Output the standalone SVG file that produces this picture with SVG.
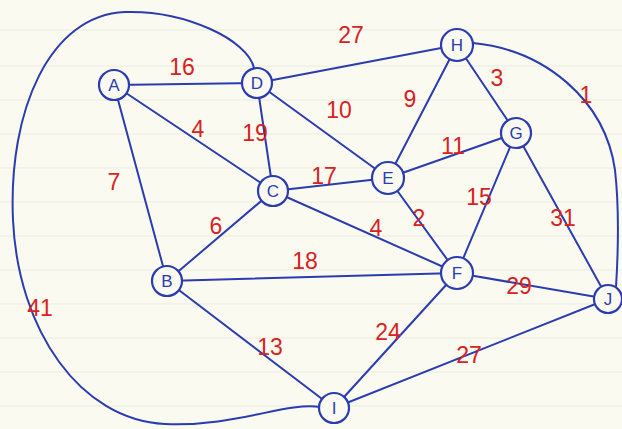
<svg xmlns="http://www.w3.org/2000/svg" width="622" height="429" viewBox="0 0 622 429">
<style>
.bg{fill:#fbfaf0}
.rule{stroke:#ebebdf;stroke-width:1}
.e{stroke:#2a3cb0;stroke-width:2;fill:none;stroke-linecap:round}
.n circle{fill:#fbfaf0;stroke:#2a3cb0;stroke-width:2.2}
.n text{fill:#2a3cb0;font-family:"Liberation Sans",Arial,sans-serif;font-size:17px;text-anchor:middle;dominant-baseline:central}
.w{fill:#d8221e;font-family:"Liberation Sans",Arial,sans-serif;font-size:23px;text-anchor:middle;dominant-baseline:central}
</style>
<rect class="bg" x="0" y="0" width="622" height="429"/>
<g id="paper">
<line class="rule" x1="0" y1="30" x2="622" y2="30"/>
<line class="rule" x1="0" y1="66" x2="622" y2="66"/>
<line class="rule" x1="0" y1="100" x2="622" y2="100"/>
<line class="rule" x1="0" y1="134" x2="622" y2="134"/>
<line class="rule" x1="0" y1="168" x2="622" y2="168"/>
<line class="rule" x1="0" y1="202" x2="622" y2="202"/>
<line class="rule" x1="0" y1="236" x2="622" y2="236"/>
<line class="rule" x1="0" y1="270" x2="622" y2="270"/>
<line class="rule" x1="0" y1="304" x2="622" y2="304"/>
<line class="rule" x1="0" y1="338" x2="622" y2="338"/>
<line class="rule" x1="0" y1="372" x2="622" y2="372"/>
<line class="rule" x1="0" y1="406" x2="622" y2="406"/>
</g>
<g id="connectors">
<line class="e" x1="114" y1="85" x2="257" y2="83"/>
<line class="e" x1="114" y1="85" x2="273" y2="191"/>
<line class="e" x1="114" y1="85" x2="167" y2="281"/>
<line class="e" x1="257" y1="83" x2="273" y2="191"/>
<line class="e" x1="257" y1="83" x2="388" y2="178"/>
<line class="e" x1="257" y1="83" x2="457" y2="45"/>
<line class="e" x1="457" y1="45" x2="388" y2="178"/>
<line class="e" x1="457" y1="45" x2="516" y2="133"/>
<line class="e" x1="516" y1="133" x2="388" y2="178"/>
<line class="e" x1="516" y1="133" x2="457" y2="273"/>
<line class="e" x1="516" y1="133" x2="608" y2="299"/>
<line class="e" x1="388" y1="178" x2="273" y2="191"/>
<line class="e" x1="388" y1="178" x2="457" y2="273"/>
<line class="e" x1="273" y1="191" x2="457" y2="273"/>
<line class="e" x1="273" y1="191" x2="167" y2="281"/>
<line class="e" x1="167" y1="281" x2="457" y2="273"/>
<line class="e" x1="167" y1="281" x2="334" y2="408"/>
<line class="e" x1="457" y1="273" x2="334" y2="408"/>
<line class="e" x1="457" y1="273" x2="608" y2="299"/>
<line class="e" x1="334" y1="408" x2="608" y2="299"/>
<path class="e" d="M473,43 C545,50 605,100 615,170 C620,215 618,255 616,287"/>
<path class="e" d="M254,68 C248,40 185,10 125,12 C50,15 8,110 13,220 C18,330 80,420 165,424 C235,427 285,402 320,407"/>
</g>
<g id="weights">
<text class="w" x="182" y="67">16</text>
<text class="w" x="198" y="129">4</text>
<text class="w" x="255" y="133">19</text>
<text class="w" x="114" y="182">7</text>
<text class="w" x="351" y="35">27</text>
<text class="w" x="339" y="110">10</text>
<text class="w" x="410" y="99">9</text>
<text class="w" x="497" y="78">3</text>
<text class="w" x="586" y="95">1</text>
<text class="w" x="453" y="146">11</text>
<text class="w" x="324" y="176">17</text>
<text class="w" x="479" y="197">15</text>
<text class="w" x="563" y="218">31</text>
<text class="w" x="216" y="226">6</text>
<text class="w" x="376" y="228">4</text>
<text class="w" x="419" y="218">2</text>
<text class="w" x="305" y="261">18</text>
<text class="w" x="40" y="308">41</text>
<text class="w" x="270" y="347">13</text>
<text class="w" x="388" y="332">24</text>
<text class="w" x="519" y="286">29</text>
<text class="w" x="469" y="355">27</text>
</g>
<g id="A" class="n"><circle cx="114" cy="85" r="15"/><text x="114" y="85">A</text></g>
<g id="D" class="n"><circle cx="257" cy="83" r="15"/><text x="257" y="83">D</text></g>
<g id="H" class="n"><circle cx="457" cy="45" r="16"/><text x="457" y="45">H</text></g>
<g id="G" class="n"><circle cx="516" cy="133" r="15"/><text x="516" y="133">G</text></g>
<g id="E" class="n"><circle cx="388" cy="178" r="16"/><text x="388" y="178">E</text></g>
<g id="C" class="n"><circle cx="273" cy="191" r="15"/><text x="273" y="191">C</text></g>
<g id="B" class="n"><circle cx="167" cy="281" r="15"/><text x="167" y="281">B</text></g>
<g id="F" class="n"><circle cx="457" cy="273" r="16"/><text x="457" y="273">F</text></g>
<g id="J" class="n"><circle cx="608" cy="299" r="14"/><text x="608" y="299">J</text></g>
<g id="I" class="n"><circle cx="334" cy="408" r="15"/><text x="334" y="408">I</text></g>
</svg>
